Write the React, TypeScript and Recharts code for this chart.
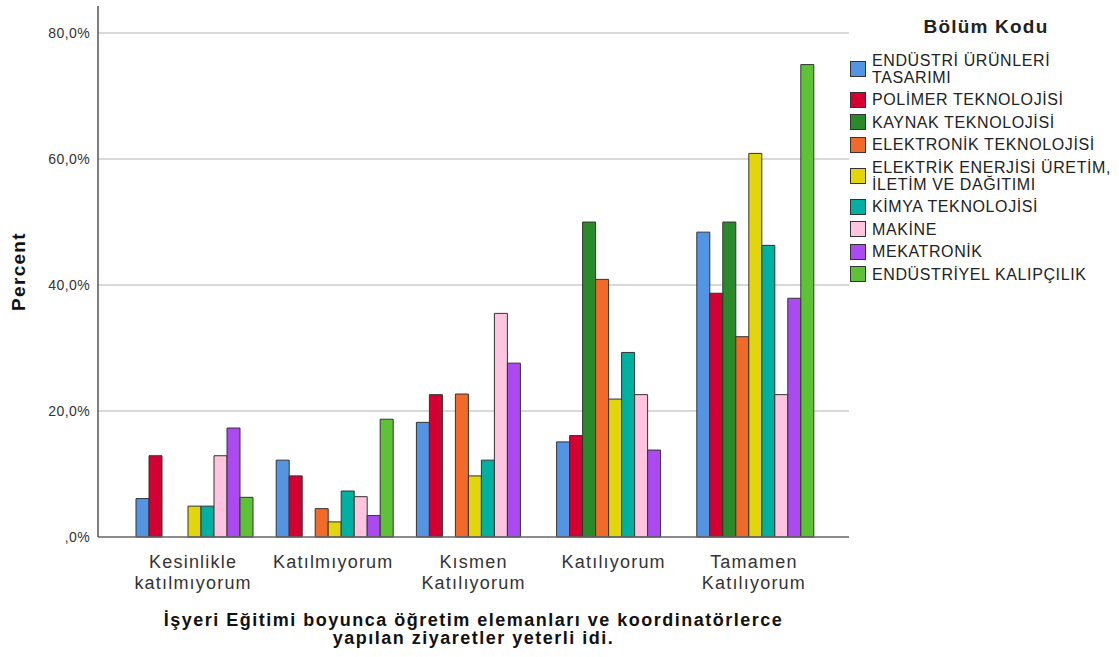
import { Bar, BarChart, CartesianGrid, Label, XAxis, YAxis } from 'recharts';

const categories = [
  'Kesinlikle katılmıyorum',
  'Katılmıyorum',
  'Kısmen Katılıyorum',
  'Katılıyorum',
  'Tamamen Katılıyorum',
];

const urunTasarimi = [6.1, 12.2, 18.2, 15.1, 48.4];
const polimer = [12.9, 9.7, 22.6, 16.1, 38.7];
const kaynak = [0, 0, 0, 50.0, 50.0];
const elektronik = [0, 4.5, 22.7, 40.9, 31.8];
const elektrik = [4.9, 2.4, 9.7, 21.9, 60.9];
const kimya = [4.9, 7.3, 12.2, 29.3, 46.3];
const makine = [12.9, 6.4, 35.5, 22.6, 22.6];
const mekatronik = [17.3, 3.4, 27.6, 13.8, 37.9];
const kalipcilik = [6.3, 18.7, 0, 0, 75.0];

const yTicks = [0, 20, 40, 60, 80];

const series = [
  { key: 'urun', name: 'ENDÜSTRİ ÜRÜNLERİ\nTASARIMI', color: '#5394e3', values: urunTasarimi },
  { key: 'polimer', name: 'POLİMER TEKNOLOJİSİ', color: '#d50032', values: polimer },
  { key: 'kaynak', name: 'KAYNAK TEKNOLOJİSİ', color: '#2a8a2a', values: kaynak },
  { key: 'elektronik', name: 'ELEKTRONİK TEKNOLOJİSİ', color: '#f26a2a', values: elektronik },
  { key: 'elektrik', name: 'ELEKTRİK ENERJİSİ ÜRETİM,\nİLETİM VE DAĞITIMI', color: '#e2d50b', values: elektrik },
  { key: 'kimya', name: 'KİMYA TEKNOLOJİSİ', color: '#00b0a0', values: kimya },
  { key: 'makine', name: 'MAKİNE', color: '#ffc4e0', values: makine },
  { key: 'mekatronik', name: 'MEKATRONİK', color: '#aa4af0', values: mekatronik },
  { key: 'kalip', name: 'ENDÜSTRİYEL KALIPÇILIK', color: '#5ec237', values: kalipcilik },
];

const data = categories.map((category, i) => {
  const row: Record<string, string | number> = { category };
  series.forEach((s) => {
    row[s.key] = s.values[i];
  });
  return row;
});

const FONT = "'Liberation Sans', Arial, sans-serif";

const CategoryTick = ({ x, y, payload }: any) => {
  const lines = String(payload.value).split(' ');
  return (
    <text x={x} y={y} textAnchor="middle" fill="#333" fontFamily={FONT} fontSize={18} letterSpacing={1.2}>
      {lines.map((line, i) => (
        <tspan key={i} x={x} dy={i === 0 ? 29 : 21}>
          {line}
        </tspan>
      ))}
    </text>
  );
};

const LegendBox = () => (
  <div style={{ fontFamily: FONT, color: '#222' }}>
    <div
      style={{
        fontWeight: 'bold',
        fontSize: 19,
        letterSpacing: 1.2,
        textAlign: 'center',
        width: 274,
        lineHeight: '20px',
        paddingTop: 5,
      }}
    >
      Bölüm Kodu
    </div>
    <div style={{ marginTop: 12 }}>
      {series.map((s) => (
        <div key={s.key} style={{ display: 'flex', alignItems: 'center', padding: '2.75px 0' }}>
          <div
            style={{
              width: 14,
              height: 14,
              background: s.color,
              border: '1px solid #333',
              marginLeft: 1,
              marginRight: 6,
              flexShrink: 0,
            }}
          />
          <div style={{ whiteSpace: 'pre-line', fontSize: 16, lineHeight: '17px', letterSpacing: 0.6 }}>
            {s.name}
          </div>
        </div>
      ))}
    </div>
  </div>
);

export default function App() {
  return (
    <div style={{ position: 'absolute', left: 0, top: 0, width: 1119, height: 657, background: '#fff' }}>
      <BarChart
        width={1119}
        height={657}
        data={data}
        margin={{ top: 6, right: 270, bottom: 0, left: 0 }}
        barCategoryGap={13}
        barGap={0}
      >
        <CartesianGrid
          vertical={false}
          stroke="#cccccc"
          strokeWidth={1.5}
          horizontalValues={yTicks.filter((v) => v > 0)}
        />
        <XAxis
          dataKey="category"
          height={120}
          padding={{ left: 25, right: 25 }}
          tickLine={false}
          tickSize={0}
          axisLine={{ stroke: '#666', strokeWidth: 1.5 }}
          tick={<CategoryTick />}
          interval={0}
        >
          <Label
            content={({ viewBox }: any) => {
              const cx = viewBox.x + viewBox.width / 2;
              return (
                <text
                  x={cx}
                  y={626}
                  textAnchor="middle"
                  fill="#111"
                  fontFamily={FONT}
                  fontWeight="bold"
                  fontSize={18}
                  letterSpacing={1.5}
                >
                  <tspan x={cx}>İşyeri Eğitimi boyunca öğretim elemanları ve koordinatörlerce</tspan>
                  <tspan x={cx} dy={18}>
                    yapılan ziyaretler yeterli idi.
                  </tspan>
                </text>
              );
            }}
          />
        </XAxis>
        <YAxis
          width={98}
          domain={[0, 84.3]}
          ticks={yTicks}
          tickLine={false}
          tickSize={0}
          tickMargin={8}
          axisLine={{ stroke: '#555', strokeWidth: 1.5 }}
          tick={{ fill: '#333', fontSize: 14, fontFamily: FONT, letterSpacing: 0.4 }}
          tickFormatter={(v: number) => (v === 0 ? ',0%' : `${v},0%`)}
        >
          <Label
            content={({ viewBox }: any) => {
              const cy = viewBox.y + viewBox.height / 2;
              return (
                <text
                  x={25}
                  y={cy}
                  transform={`rotate(-90, 25, ${cy})`}
                  textAnchor="middle"
                  fill="#111"
                  fontFamily={FONT}
                  fontWeight="bold"
                  fontSize={19}
                  letterSpacing={1.3}
                >
                  Percent
                </text>
              );
            }}
          />
        </YAxis>
        {series.map((s) => (
          <Bar
            key={s.key}
            dataKey={s.key}
            name={s.name}
            fill={s.color}
            stroke="#333"
            strokeWidth={1}
            isAnimationActive={false}
          />
        ))}
      </BarChart>
      <div style={{ position: 'absolute', left: 849, top: 12, width: 270 }}>
        <LegendBox />
      </div>
    </div>
  );
}
